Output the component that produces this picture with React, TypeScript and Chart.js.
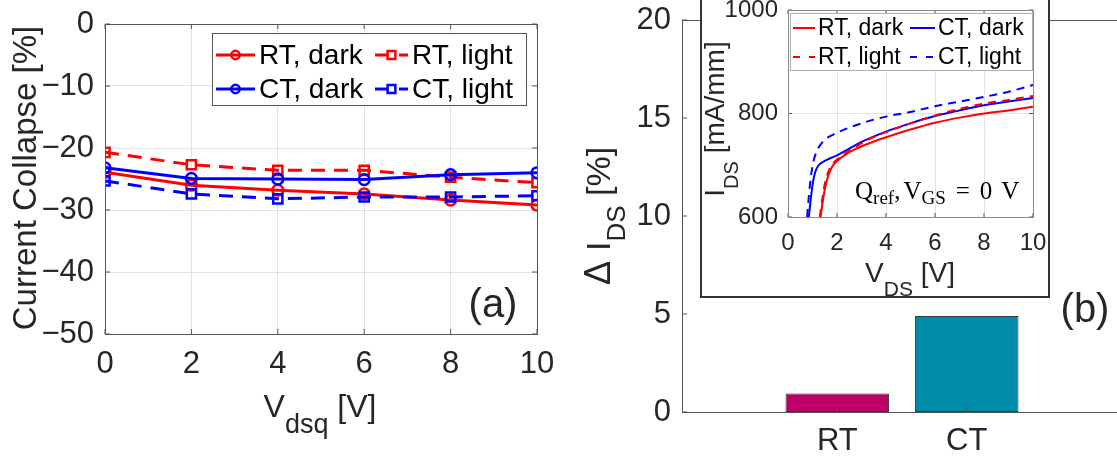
import React, { useEffect, useRef } from 'react';
import { Chart, registerables } from 'chart.js';

Chart.register(...registerables);

const SANS = '"Liberation Sans", Arial, Helvetica, sans-serif';
const SERIF = '"Liberation Serif", "Times New Roman", serif';
const INK = '#262626';
const AXIS = '#555555';
const GRID = '#e2e2e2';
const RED = '#ff0000';
const BLUE = '#0000ff';

Chart.defaults.font.family = SANS;
Chart.defaults.color = INK;

// (a) current collapse versus quiescent drain bias
const vdsq = [0, 2, 4, 6, 8, 10];
const collapseRtDark = [-23.9, -26.0, -26.8, -27.4, -28.4, -29.2];
const collapseRtLight = [-20.7, -22.7, -23.6, -23.6, -24.7, -25.6];
const collapseCtDark = [-23.2, -24.9, -25.0, -25.1, -24.3, -24.0];
const collapseCtLight = [-25.3, -27.4, -28.2, -27.9, -27.9, -27.7];
const collapseLabels = ['RT, dark', 'RT, light', 'CT, dark', 'CT, light'];

// (b) drain current change per temperature
const tempLabels = ['RT', 'CT'];
const deltaIds = [0.94, 4.9];
const barColors = ['#be0066', '#008ba8'];

// inset: output characteristics at the reference quiescent point
const vRtDark = [1.33, 1.42, 1.52, 1.65, 1.8, 2.0, 2.3, 2.7, 3.24, 4, 5, 6, 7, 8, 9, 10];
const iRtDark = [600, 630, 658, 681, 697, 708, 719, 730, 741, 754, 769, 782, 792, 800, 806, 813];
const vCtDark = [0.85, 0.93, 1.02, 1.12, 1.25, 1.45, 1.7, 2, 2.5, 3, 4, 5, 6, 7, 8, 9, 10];
const iCtDark = [600, 635, 668, 688, 700, 707, 713, 719, 732, 745, 765, 781, 795, 806, 816, 823, 830];
const vRtLight = [1.3, 1.39, 1.49, 1.62, 1.78, 2.0, 2.3, 2.7, 3.3, 4, 5, 6, 7, 8, 9, 10];
const iRtLight = [600, 632, 661, 684, 700, 711, 722, 734, 750, 764, 781, 796, 809, 819, 826, 834];
const vCtLight = [0.78, 0.85, 0.94, 1.04, 1.15, 1.3, 1.5, 1.8, 2.2, 3, 4, 5, 6, 7, 8, 9, 10];
const iCtLight = [600, 640, 680, 707, 725, 738, 749, 758, 767, 781, 794, 803, 814, 823, 832, 842, 855];
const outputLabels = ['RT, dark', 'CT, dark', 'RT, light', 'CT, light'];

type Piece = { t?: string; size?: number; dy?: number; gap?: number };

function drawRich(
  ctx: CanvasRenderingContext2D,
  pieces: Piece[],
  x: number,
  y: number,
  align: 'left' | 'center',
  family: string,
  color = INK
) {
  ctx.save();
  ctx.fillStyle = color;
  ctx.textAlign = 'left';
  ctx.textBaseline = 'alphabetic';
  const widths = pieces.map((p) => {
    if (p.gap !== undefined) return p.gap;
    ctx.font = `${p.size}px ${family}`;
    return ctx.measureText(p.t || '').width;
  });
  const total = widths.reduce((s, w) => s + w, 0);
  let cx = align === 'center' ? x - total / 2 : x;
  pieces.forEach((p, i) => {
    if (p.t) {
      ctx.font = `${p.size}px ${family}`;
      ctx.fillText(p.t, cx, y + (p.dy || 0));
    }
    cx += widths[i];
  });
  ctx.restore();
}

function drawRichRotated(ctx: CanvasRenderingContext2D, pieces: Piece[], x: number, y: number) {
  ctx.save();
  ctx.translate(x, y);
  ctx.rotate(-Math.PI / 2);
  drawRich(ctx, pieces, 0, 0, 'center', SANS);
  ctx.restore();
}

function innerTicks(chart: any, len: number, top: boolean, right: boolean) {
  const { ctx, chartArea: a, scales } = chart;
  const xs = scales.x.ticks.map((t: any) => scales.x.getPixelForValue(t.value));
  const ys = scales.y.ticks.map((t: any) => scales.y.getPixelForValue(t.value));
  ctx.save();
  ctx.strokeStyle = AXIS;
  ctx.lineWidth = 1;
  ctx.setLineDash([]);
  ctx.beginPath();
  for (const x of xs) {
    ctx.moveTo(x, a.bottom);
    ctx.lineTo(x, a.bottom - len);
    if (top) {
      ctx.moveTo(x, a.top);
      ctx.lineTo(x, a.top + len);
    }
  }
  for (const y of ys) {
    ctx.moveTo(a.left, y);
    ctx.lineTo(a.left + len, y);
    if (right) {
      ctx.moveTo(a.right, y);
      ctx.lineTo(a.right - len, y);
    }
  }
  ctx.stroke();
  ctx.restore();
}

function drawMarker(ctx: CanvasRenderingContext2D, style: string, x: number, y: number, r: number, color: string, lw: number) {
  ctx.save();
  ctx.strokeStyle = color;
  ctx.lineWidth = lw;
  ctx.setLineDash([]);
  ctx.beginPath();
  if (style === 'rect') {
    const h = r * Math.SQRT1_2;
    ctx.rect(x - h, y - h, 2 * h, 2 * h);
  } else {
    ctx.arc(x, y, r, 0, Math.PI * 2);
  }
  ctx.stroke();
  ctx.restore();
}

function drawLegend(
  chart: any,
  box: { x0: number; x1: number; y0: number; y1: number; border: string },
  rows: number[],
  cols: { l0: number; l1: number; tx: number }[],
  font: number,
  lineWidth: number,
  withMarkers: boolean
) {
  const ctx: CanvasRenderingContext2D = chart.ctx;
  ctx.save();
  ctx.fillStyle = '#ffffff';
  ctx.fillRect(box.x0, box.y0, box.x1 - box.x0, box.y1 - box.y0);
  ctx.strokeStyle = box.border;
  ctx.lineWidth = 1;
  ctx.strokeRect(box.x0 + 0.5, box.y0 + 0.5, box.x1 - box.x0, box.y1 - box.y0);
  chart.data.datasets.forEach((d: any, i: number) => {
    const r = rows[Math.floor(i / 2)];
    const c = cols[i % 2];
    ctx.strokeStyle = d.borderColor;
    ctx.lineWidth = lineWidth;
    ctx.setLineDash(d.legendDash || []);
    ctx.beginPath();
    ctx.moveTo(c.l0, r);
    ctx.lineTo(c.l1, r);
    ctx.stroke();
    if (withMarkers) {
      drawMarker(ctx, d.pointStyle, (c.l0 + c.l1) / 2, r, d.pointStyle === 'rect' ? 5.5 : 4.2, d.borderColor, 2.5);
    }
    ctx.setLineDash([]);
    ctx.fillStyle = '#000000';
    ctx.font = `${font}px ${SANS}`;
    ctx.textAlign = 'left';
    ctx.textBaseline = 'middle';
    ctx.fillText(d.label, c.tx, r + 1);
  });
  ctx.restore();
}

function noScalePadding(s: any) {
  s.paddingTop = 0;
  s.paddingBottom = 0;
  s.paddingLeft = 0;
  s.paddingRight = 0;
}

// MATLAB-style tick text: true minus sign, no thousands separator
function tickText(v: any) {
  const n = Number(v);
  return n < 0 ? '\u2212' + Math.abs(n) : String(n);
}

const collapsePlugin = {
  id: 'collapseDecor',
  afterDraw(chart: any) {
    const { ctx, chartArea: a } = chart;
    innerTicks(chart, 5, true, true);
    ctx.save();
    ctx.strokeStyle = AXIS;
    ctx.lineWidth = 1;
    ctx.strokeRect(a.left + 0.5, a.top + 0.5, a.right - a.left, a.bottom - a.top);
    ctx.restore();
    drawLegend(
      chart,
      { x0: 212, x1: 526, y0: 33, y1: 105, border: '#555555' },
      [55, 89],
      [
        { l0: 216, l1: 255, tx: 259 },
        { l0: 375, l1: 408, tx: 412 },
      ],
      28,
      3,
      true
    );
    drawRichRotated(ctx, [{ t: 'Current Collapse [%]', size: 33 }], 36, 178);
    drawRich(
      ctx,
      [
        { t: 'V', size: 32 },
        { t: 'dsq', size: 27, dy: 16 },
        { t: ' [V]', size: 32 },
      ],
      320,
      417,
      'center',
      SANS
    );
    ctx.save();
    ctx.fillStyle = INK;
    ctx.font = `40px ${SANS}`;
    ctx.textAlign = 'center';
    ctx.textBaseline = 'middle';
    ctx.fillText('(a)', 493, 306);
    ctx.restore();
  },
};

const barPlugin = {
  id: 'barDecor',
  afterDraw(chart: any) {
    const { ctx, chartArea: a } = chart;
    innerTicks(chart, 5, false, false);
    ctx.save();
    ctx.strokeStyle = AXIS;
    ctx.lineWidth = 1;
    ctx.beginPath();
    ctx.moveTo(a.left, a.top + 0.5);
    ctx.lineTo(a.right, a.top + 0.5);
    ctx.stroke();
    ctx.restore();
    drawRichRotated(
      ctx,
      [
        { t: 'Δ ', size: 36 },
        { t: 'I', size: 34 },
        { t: 'DS', size: 26, dy: 15 },
        { t: ' [%]', size: 34 },
      ],
      50,
      216
    );
    ctx.save();
    ctx.fillStyle = INK;
    ctx.font = `40px ${SANS}`;
    ctx.textAlign = 'center';
    ctx.textBaseline = 'middle';
    ctx.fillText('(b)', 525, 311);
    ctx.restore();
  },
};

const outputPlugin = {
  id: 'outputDecor',
  afterDraw(chart: any) {
    const { ctx, chartArea: a } = chart;
    innerTicks(chart, 4, true, true);
    ctx.save();
    ctx.strokeStyle = '#8a8a8a';
    ctx.lineWidth = 1;
    ctx.strokeRect(a.left + 0.5, a.top + 0.5, a.right - a.left, a.bottom - a.top);
    ctx.restore();
    drawLegend(
      chart,
      { x0: 88, x1: 330, y0: 15, y1: 72, border: '#b0b0b0' },
      [30, 59],
      [
        { l0: 91, l1: 113, tx: 116 },
        { l0: 208, l1: 233, tx: 236 },
      ],
      23,
      2,
      false
    );
    drawRich(
      ctx,
      [
        { t: 'Q', size: 25 },
        { t: 'ref', size: 19, dy: 5 },
        { t: ',', size: 25 },
        { gap: 3 },
        { t: 'V', size: 25 },
        { t: 'GS', size: 19, dy: 5 },
        { gap: 10 },
        { t: '=', size: 25 },
        { gap: 10 },
        { t: '0', size: 25 },
        { gap: 9 },
        { t: 'V', size: 25 },
      ],
      153,
      201,
      'left',
      SERIF,
      '#000000'
    );
    drawRich(
      ctx,
      [
        { t: 'V', size: 28 },
        { t: 'DS', size: 21, dy: 14 },
        { t: ' [V]', size: 28 },
      ],
      208,
      284,
      'center',
      SANS
    );
    drawRichRotated(
      ctx,
      [
        { t: 'I', size: 28 },
        { t: 'DS', size: 20, dy: 14 },
        { t: ' [mA/mm]', size: 28 },
      ],
      22,
      121
    );
  },
};

function pointsOf(xs: number[], ys: number[]) {
  return xs.map((x, i) => ({ x, y: ys[i] }));
}

function makeCollapse(canvas: HTMLCanvasElement) {
  const series = [
    { label: collapseLabels[0], y: collapseRtDark, color: RED, dash: [] as number[], style: 'circle', order: 3 },
    { label: collapseLabels[1], y: collapseRtLight, color: RED, dash: [14, 9], style: 'rect', order: 2 },
    { label: collapseLabels[2], y: collapseCtDark, color: BLUE, dash: [] as number[], style: 'circle', order: 1 },
    { label: collapseLabels[3], y: collapseCtLight, color: BLUE, dash: [14, 9], style: 'rect', order: 0 },
  ];
  return new Chart(canvas, {
    type: 'line',
    data: {
      datasets: series.map((s) => ({
        label: s.label,
        data: pointsOf(vdsq, s.y),
        borderColor: s.color,
        borderWidth: 3,
        borderDash: s.dash,
        legendDash: s.dash.length ? [12, 12] : [],
        pointStyle: s.style,
        pointRadius: s.style === 'rect' ? 6.5 : 5.4,
        pointBorderWidth: 2.5,
        pointBorderColor: s.color,
        pointBackgroundColor: 'rgba(0,0,0,0)',
        fill: false,
        tension: 0,
        order: s.order,
      })) as any,
    },
    options: {
      animation: false,
      responsive: false,
      events: [],
      layout: { padding: { top: 24, right: 23, left: 0, bottom: 0 } },
      plugins: { legend: { display: false }, tooltip: { enabled: false } },
      scales: {
        x: {
          type: 'linear',
          min: 0,
          max: 10,
          ticks: { stepSize: 2, padding: 12, font: { size: 31 }, color: INK, callback: tickText },
          grid: { color: GRID, drawTicks: false },
          border: { display: false },
          afterFit: (s: any) => {
            s.height = 122;
            noScalePadding(s);
          },
        },
        y: {
          type: 'linear',
          min: -50,
          max: 0,
          ticks: { stepSize: 10, padding: 11, font: { size: 31 }, color: INK, callback: tickText },
          grid: { color: GRID, drawTicks: false },
          border: { display: false },
          afterFit: (s: any) => {
            s.width = 105;
            noScalePadding(s);
          },
        },
      },
    },
    plugins: [collapsePlugin],
  });
}

function makeBars(canvas: HTMLCanvasElement) {
  return new Chart(canvas, {
    type: 'bar',
    data: {
      datasets: [
        {
          label: 'ΔIDS',
          data: tempLabels.map((_, i) => ({ x: i + 1, y: deltaIds[i] })),
          backgroundColor: barColors,
          borderColor: '#3a3a3a',
          borderWidth: 1,
          borderSkipped: false,
          categoryPercentage: 1,
          barPercentage: 0.8,
        },
      ] as any,
    },
    options: {
      animation: false,
      responsive: false,
      events: [],
      layout: { padding: { top: 20, right: 8, left: 0, bottom: 0 } },
      plugins: { legend: { display: false }, tooltip: { enabled: false } },
      scales: {
        x: {
          type: 'linear',
          min: -0.2,
          max: 3.2,
          offset: false,
          afterBuildTicks: (s: any) => {
            s.ticks = tempLabels.map((_, i) => ({ value: i + 1 }));
          },
          ticks: {
            callback: (v: any) => tempLabels[Number(v) - 1] ?? '',
            font: { size: 31 },
            padding: 11,
            color: INK,
          },
          grid: { display: false, drawTicks: false, offset: false },
          border: { display: true, color: AXIS, width: 1 },
          afterFit: (s: any) => {
            s.height = 44;
            noScalePadding(s);
          },
        },
        y: {
          type: 'linear',
          min: 0,
          max: 20,
          ticks: { stepSize: 5, padding: 11, font: { size: 31 }, color: INK, callback: tickText },
          grid: { display: false, drawTicks: false },
          border: { display: true, color: AXIS, width: 1 },
          afterFit: (s: any) => {
            s.width = 122;
            noScalePadding(s);
          },
        },
      },
    },
    plugins: [barPlugin],
  });
}

function makeOutput(canvas: HTMLCanvasElement) {
  const series = [
    { label: outputLabels[0], v: vRtDark, i: iRtDark, color: RED, dash: [] as number[], order: 3 },
    { label: outputLabels[1], v: vCtDark, i: iCtDark, color: BLUE, dash: [] as number[], order: 2 },
    { label: outputLabels[2], v: vRtLight, i: iRtLight, color: RED, dash: [8, 6], order: 1 },
    { label: outputLabels[3], v: vCtLight, i: iCtLight, color: BLUE, dash: [8, 6], order: 0 },
  ];
  return new Chart(canvas, {
    type: 'line',
    data: {
      datasets: series.map((s) => ({
        label: s.label,
        data: pointsOf(s.v, s.i),
        borderColor: s.color,
        borderWidth: 2,
        borderDash: s.dash,
        legendDash: s.dash.length ? [7, 9] : [],
        pointRadius: 0,
        cubicInterpolationMode: 'monotone',
        fill: false,
        order: s.order,
      })) as any,
    },
    options: {
      animation: false,
      responsive: false,
      events: [],
      layout: { padding: { top: 12, right: 15, left: 0, bottom: 0 } },
      plugins: { legend: { display: false }, tooltip: { enabled: false } },
      scales: {
        x: {
          type: 'linear',
          min: 0,
          max: 10,
          ticks: { stepSize: 2, padding: 12, font: { size: 24 }, color: INK, callback: tickText },
          grid: { color: GRID, drawTicks: false },
          border: { display: false },
          afterFit: (s: any) => {
            s.height = 79;
            noScalePadding(s);
          },
        },
        y: {
          type: 'linear',
          min: 600,
          max: 1000,
          ticks: { stepSize: 200, padding: 10, font: { size: 24 }, color: INK, callback: tickText },
          grid: { color: GRID, drawTicks: false },
          border: { display: false },
          afterFit: (s: any) => {
            s.width = 86;
            noScalePadding(s);
          },
        },
      },
    },
    plugins: [outputPlugin],
  });
}

export default function App() {
  const collapseRef = useRef<HTMLCanvasElement>(null);
  const barRef = useRef<HTMLCanvasElement>(null);
  const outputRef = useRef<HTMLCanvasElement>(null);

  useEffect(() => {
    const charts = [
      makeCollapse(collapseRef.current!),
      makeBars(barRef.current!),
      makeOutput(outputRef.current!),
    ];
    return () => charts.forEach((c) => c.destroy());
  }, []);

  return (
    <div
      style={{
        position: 'fixed',
        left: 0,
        top: 0,
        width: 1117,
        height: 456,
        overflow: 'hidden',
        background: '#ffffff',
      }}
    >
      <canvas
        ref={collapseRef}
        width={560}
        height={456}
        style={{ position: 'absolute', left: 0, top: 0, width: 560, height: 456 }}
      />
      <canvas
        ref={barRef}
        width={570}
        height={456}
        style={{ position: 'absolute', left: 560, top: 0, width: 570, height: 456 }}
      />
      <div
        style={{
          position: 'absolute',
          left: 700,
          top: -4,
          width: 350,
          height: 302,
          boxSizing: 'border-box',
          border: '2px solid #333333',
          background: '#ffffff',
        }}
      >
        <canvas ref={outputRef} width={346} height={298} style={{ display: 'block', width: 346, height: 298 }} />
      </div>
    </div>
  );
}
